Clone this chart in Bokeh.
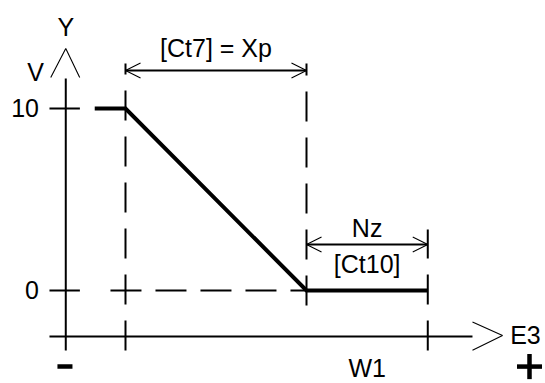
from bokeh.plotting import figure
from bokeh.models import Range1d
from bokeh.core.properties import value
from bokeh.embed import file_html
from bokeh.resources import INLINE

# ---- diagram data (E = input, V = output) ----
V_TICKS = [0, 10]
V_TICK_LABELS = ["0", "10"]
CURVE_E = [-1.7, 0.0, 10.0, 16.7]
CURVE_V = [10, 10, 0, 0]
XP = 10.0          # proportional band [Ct7]
NZ = 6.7           # neutral zone [Ct10]
E_START = 0.0      # start of the band
Y_AXIS_E = -3.3    # position of the vertical axis
X_AXIS_V = -2.53   # position of the horizontal axis
LABEL_XP = "[Ct7] = Xp"
LABEL_NZ = "Nz"
LABEL_CT10 = "[Ct10]"

FONT = value("Liberation Sans")
FS = "25px"

p = figure(width=545, height=383, output_backend="svg", toolbar_location=None,
           x_range=Range1d(-6.906, 23.204), y_range=Range1d(-5.110, 15.934),
           x_axis_type=None, y_axis_type=None, min_border=0)
p.grid.visible = False
p.outline_line_color = None
p.background_fill_color = "white"
p.border_fill_color = "white"

K = "black"
e_end = E_START + XP
e_nz = e_end + NZ

# vertical axis with open arrow head
p.line([Y_AXIS_E, Y_AXIS_E], [X_AXIS_V - 0.77, 11.65], line_color=K, line_width=2)
p.line([Y_AXIS_E - 0.83, Y_AXIS_E, Y_AXIS_E + 0.77], [11.70, 13.30, 11.70],
       line_color=K, line_width=1.1)
# horizontal axis with open arrow head
p.line([Y_AXIS_E - 0.9, 19.17], [X_AXIS_V, X_AXIS_V], line_color=K, line_width=2)
p.line([19.17, 20.83, 19.17], [X_AXIS_V + 0.8, X_AXIS_V + 0.06, X_AXIS_V - 0.75],
       line_color=K, line_width=1.1)

# ticks on the vertical axis and their labels
for v, lab in zip(V_TICKS, V_TICK_LABELS):
    p.line([Y_AXIS_E - 0.9, Y_AXIS_E + 0.78], [v, v], line_color=K, line_width=2)
    p.text([Y_AXIS_E - 1.48], [v], text=[lab], text_font=FONT, text_font_size=FS,
           text_align="right", text_baseline="middle", text_color=K)

# dashed guide lines
p.line([E_START, E_START], [X_AXIS_V - 0.77, 12.47], line_color=K, line_width=2,
       line_dash="30 16")
p.line([e_end, e_end], [-0.82, 12.47], line_color=K, line_width=2, line_dash="30 16")
p.line([e_nz, e_nz], [X_AXIS_V - 0.77, 3.35], line_color=K, line_width=2,
       line_dash="30 16")
p.line([E_START - 0.83, e_end], [0, 0], line_color=K, line_width=2, line_dash="31 14")

# characteristic curve
p.line(CURVE_E, CURVE_V, line_color=K, line_width=4, line_join="miter")

# dimension arrows
def dim(e0, e1, v):
    p.line([e0, e1], [v, v], line_color=K, line_width=2)
    p.line([e0 + 0.83, e0, e0 + 0.83], [v + 0.41, v, v - 0.41], line_color=K, line_width=1.1)
    p.line([e1 - 0.83, e1, e1 - 0.83], [v + 0.41, v, v - 0.41], line_color=K, line_width=1.1)

dim(E_START, e_end, 12.09)
dim(e_end, e_nz, 2.53)

def txt(e, v, s, align="center"):
    p.text([e], [v], text=[s], text_font=FONT, text_font_size=FS,
           text_align=align, text_baseline="middle", text_color=K)

txt(Y_AXIS_E, 14.5, "Y")
txt(-4.97, 11.98, "V")
txt((E_START + e_end) / 2, 13.3, LABEL_XP)
txt((e_end + e_nz) / 2, 3.41, LABEL_NZ)
txt((e_end + e_nz) / 2, 1.43, LABEL_CT10)
txt(21.25, X_AXIS_V + 0.06, "E3", align="left")
txt((e_end + e_nz) / 2, -4.25, "W1")

# sign marks
p.line([-3.76, -2.93], [-4.18, -4.18], line_color=K, line_width=4.5)
p.line([21.63, 23.01], [-4.18, -4.18], line_color=K, line_width=4.5)
p.line([22.32, 22.32], [-4.87, -3.49], line_color=K, line_width=4.5)

open("out.html", "w").write(file_html(p, INLINE))
